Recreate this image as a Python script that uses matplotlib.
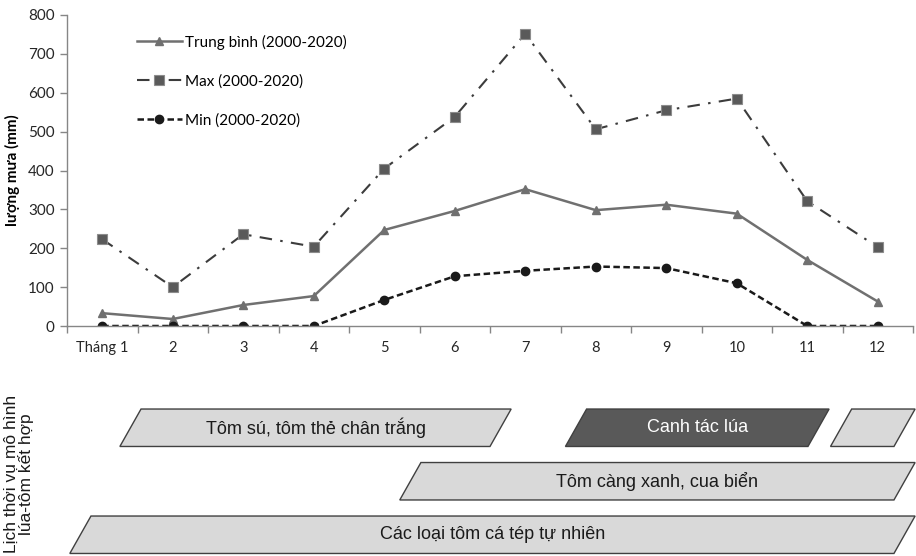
import matplotlib.pyplot as plt
from matplotlib.patches import Polygon

plt.rcParams['font.family'] = ['Lato', 'DejaVu Sans']

# Data
months = ["Tháng 1", "2", "3", "4", "5", "6", "7", "8", "9", "10", "11", "12"]
avg_rain = [33, 18, 54, 77, 247, 296, 352, 298, 312, 289, 170, 63]
max_rain = [223, 100, 236, 204, 405, 538, 752, 506, 555, 585, 321, 203]
min_rain = [0, 0, 0, 0, 67, 128, 142, 153, 149, 110, 0, 0]

# Lịch thời vụ: (label, start month, end month, row, dark)
schedule = [
    ("Tôm sú, tôm thẻ chân trắng", 1.40, 6.65, 0, False),
    ("Canh tác lúa", 7.72, 11.16, 0, True),
    ("", 11.48, 12.38, 0, False),
    ("Tôm càng xanh, cua biển", 5.37, 12.38, 1, False),
    ("Các loại tôm cá tép tự nhiên", 0.69, 12.38, 2, False),
]

W, H = 916, 556
fig = plt.figure(figsize=(W / 100, H / 100), dpi=100)

left, right = 67 / W, 913 / W
ax = fig.add_axes([left, 1 - 326 / H, right - left, 311 / H])
x = list(range(len(months)))

ax.plot(x, avg_rain, color="#707070", lw=1.8, marker="^", ms=6,
        mfc="#707070", mec="#707070", label="Trung bình (2000-2020)")
ax.plot(x, max_rain, color="#3c3c3c", lw=1.5, ls=(0, (6, 4, 1.2, 4)),
        marker="s", ms=6.5, mfc="#5a5a5a", mec="#8c8c8c", mew=0.8,
        label="Max (2000-2020)")
ax.plot(x, min_rain, color="#1a1a1a", lw=1.8, ls=(0, (2.6, 1.4)),
        marker="o", ms=6, mfc="#1a1a1a", mec="#1a1a1a",
        label="Min (2000-2020)")

ax.set_xlim(-0.5, len(months) - 0.5)
ax.set_ylim(0, 800)
ax.set_yticks(range(0, 801, 100))
ax.set_xticks(x)
ax.set_xticklabels(months)
ax.set_xticks([i - 0.5 for i in range(len(months) + 1)], minor=True)
ax.tick_params(axis="x", which="major", length=0, pad=11, labelsize=10.5, labelcolor="#262626")
ax.tick_params(axis="x", which="minor", length=5, color="#868686", width=1)
ax.tick_params(axis="y", length=5, color="#868686", width=1, labelsize=11,
               labelcolor="#262626", pad=4)
for s in ["top", "right"]:
    ax.spines[s].set_visible(False)
for s in ["left", "bottom"]:
    ax.spines[s].set_color("#868686")
    ax.spines[s].set_linewidth(1)
ax.set_ylabel("lượng mưa (mm)", fontsize=11, fontweight="bold", labelpad=6)

ax.legend(loc="upper left", bbox_to_anchor=(0.083, 0.937), frameon=False,
          fontsize=11, handlelength=2.9, handletextpad=0.2,
          labelspacing=1.6, borderpad=0, borderaxespad=0)

# Lịch thời vụ
bx = fig.add_axes([left, 0, right - left, 155 / H])
bx.set_xlim(-0.5, len(months) - 0.5)
bx.set_ylim(-0.5 + 155 / 53.5, -0.5)
bx.axis("off")
half_h = 0.35
slant = 0.30
for label, start, end, row, dark in schedule:
    x0, x1 = start - 1, end - 1
    top, bot = row - half_h, row + half_h
    pts = [(x0 - slant / 2, bot), (x0 + slant / 2, top),
           (x1 + slant / 2, top), (x1 - slant / 2, bot)]
    bx.add_patch(Polygon(pts, closed=True, facecolor="#595959" if dark else "#d9d9d9",
                         edgecolor="#404040", lw=1, clip_on=False))
    if label:
        bx.text((x0 + x1) / 2, row, label, ha="center", va="center",
                fontsize=13, color="white" if dark else "#1a1a1a",
                family=["Liberation Sans Narrow", "Liberation Sans", "DejaVu Sans"])

fig.text(19 / W, 1 - 474 / H, "Lịch thời vụ mô hình\nlúa-tôm kết hợp",
         rotation=90, ha="center", va="center", fontsize=12.5,
         linespacing=1.0, color="#1a1a1a",
         family=["Liberation Sans", "DejaVu Sans"])

fig.savefig("out.png", dpi=100)
